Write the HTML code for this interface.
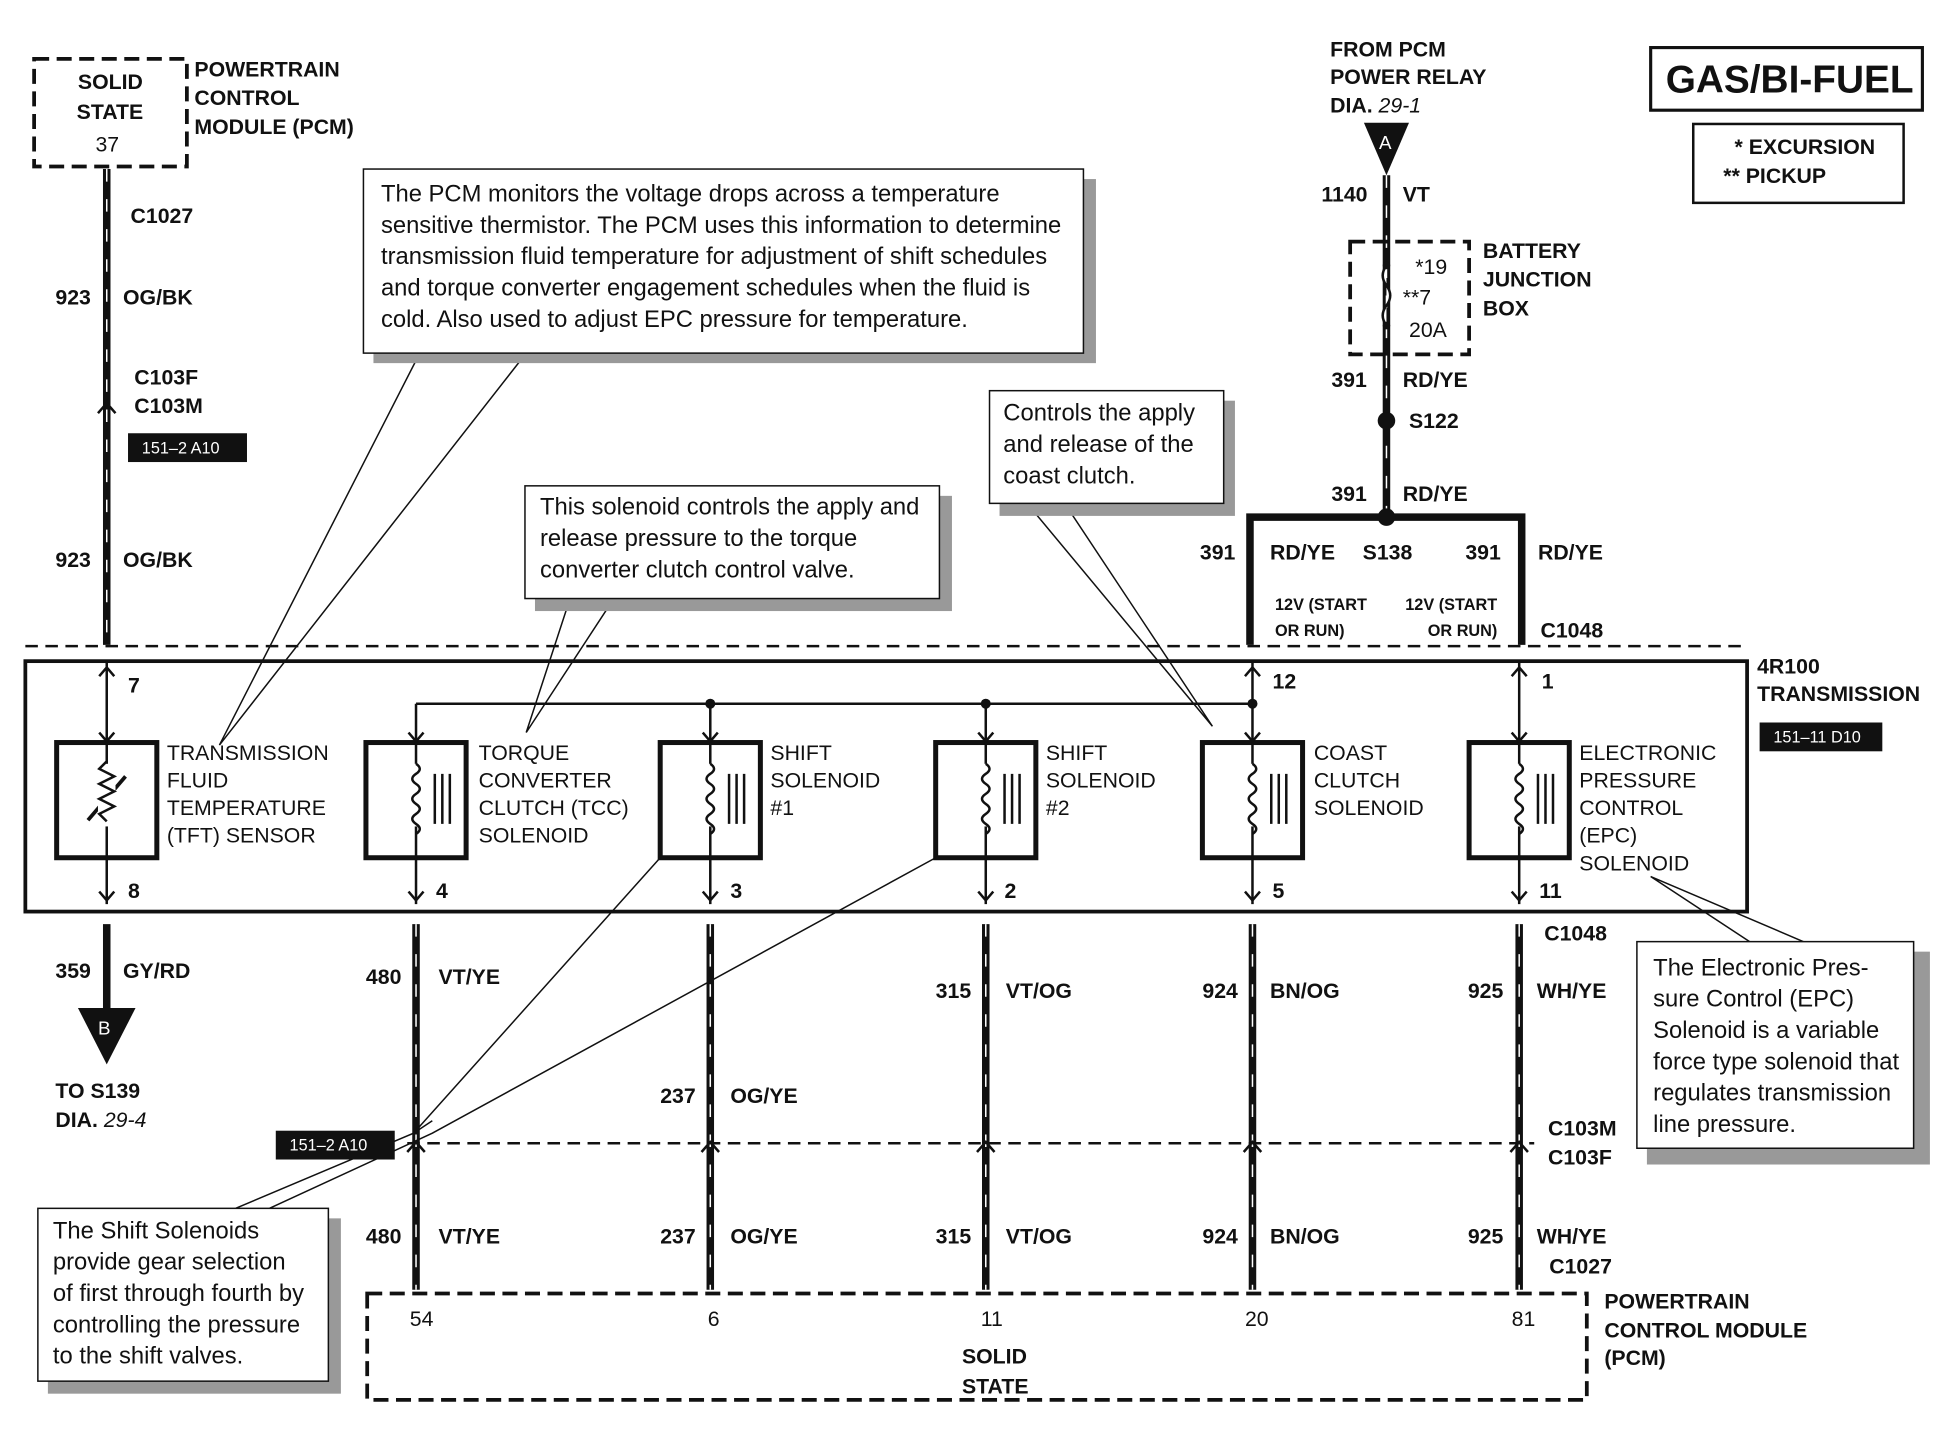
<!DOCTYPE html>
<html><head><meta charset="utf-8"><style>
html,body{margin:0;padding:0;background:#fff}
svg{display:block}
text{font-family:"Liberation Sans",Arial,sans-serif;fill:#111}
.b{font-weight:bold;font-size:17px}
.s{font-weight:bold;font-size:13px}
.c{font-size:19px}
.i{font-style:italic;font-weight:normal}
</style></head><body>
<svg width="1954" height="1440" viewBox="0 0 1560 1150" xmlns="http://www.w3.org/2000/svg">
<defs>
<g id="coil"><path d="M0,-28 q6,4 0,8 q-6,4 0,8 q6,4 0,8 q-6,4 0,8 q6,4 0,8 q-6,4 0,8 q6,4 0,8" fill="none" stroke="#111" stroke-width="2"/></g>
</defs>
<g fill="none" stroke="#111">
<!-- top-left PCM -->
<rect x="27" y="47" width="122" height="86" stroke-width="3" stroke-dasharray="12,6"/>
<!-- wires -->
<g stroke-width="6">
<line x1="85" y1="135" x2="85" y2="515"/>
<line x1="85" y1="738" x2="85" y2="805"/>
<line x1="332" y1="738" x2="332" y2="1030"/>
<line x1="567" y1="738" x2="567" y2="1030"/>
<line x1="787" y1="738" x2="787" y2="1030"/>
<line x1="1000" y1="738" x2="1000" y2="1030"/>
<line x1="1213" y1="738" x2="1213" y2="1030"/>
<line x1="1107" y1="140" x2="1107" y2="410"/>
<polyline points="998,515 998,413 1215,413 1215,515"/>
</g>
<g stroke="#fff" stroke-width="1.2" stroke-dasharray="10,14">
<line x1="85" y1="135" x2="85" y2="515"/><line x1="332" y1="738" x2="332" y2="1030"/><line x1="567" y1="738" x2="567" y2="1030"/><line x1="787" y1="738" x2="787" y2="1030"/><line x1="1000" y1="738" x2="1000" y2="1030"/><line x1="1213" y1="738" x2="1213" y2="1030"/><line x1="1107" y1="140" x2="1107" y2="410"/>
</g>
<!-- connector dashed lines -->
<line x1="20" y1="516" x2="1395" y2="516" stroke-width="2" stroke-dasharray="10,6"/>
<line x1="325" y1="913" x2="1225" y2="913" stroke-width="2" stroke-dasharray="10,6"/>
<!-- transmission box -->
<rect x="20" y="528" width="1375" height="200" stroke-width="3"/>
<line x1="332" y1="562" x2="1000" y2="562" stroke-width="2"/>
<!-- component boxes -->
<g stroke-width="4">
<rect x="45" y="593" width="80" height="92"/>
<rect x="292" y="593" width="80" height="92"/>
<rect x="527" y="593" width="80" height="92"/>
<rect x="747" y="593" width="80" height="92"/>
<rect x="960" y="593" width="80" height="92"/>
<rect x="1173" y="593" width="80" height="92"/>
</g>
<g stroke-width="2">
<line x1="85" y1="528" x2="85" y2="722"/>
<line x1="332" y1="562" x2="332" y2="722"/>
<line x1="567" y1="562" x2="567" y2="722"/>
<line x1="787" y1="562" x2="787" y2="722"/>
<line x1="1000" y1="528" x2="1000" y2="722"/>
<line x1="1213" y1="528" x2="1213" y2="722"/>
<line x1="70" y1="655" x2="100" y2="620" stroke-width="3"/>
</g>
<g fill="#fff"><rect x="78" y="610" width="14" height="50" stroke="none"/><rect x="325" y="610" width="14" height="50" stroke="none"/><rect x="560" y="610" width="14" height="50" stroke="none"/><rect x="780" y="610" width="14" height="50" stroke="none"/><rect x="993" y="610" width="14" height="50" stroke="none"/><rect x="1206" y="610" width="14" height="50" stroke="none"/></g>
<path d="M85,608 l-6,6 l12,6 l-12,6 l12,6 l-12,6 l12,6 l-12,6 l6,6" stroke-width="2"/>
<use href="#coil" x="332" y="638"/><use href="#coil" x="567" y="638"/><use href="#coil" x="787" y="638"/><use href="#coil" x="1000" y="638"/><use href="#coil" x="1213" y="638"/>
<g stroke-width="2">
<path d="M347,618v40M353,618v40M359,618v40"/><path d="M582,618v40M588,618v40M594,618v40"/><path d="M802,618v40M808,618v40M814,618v40"/><path d="M1015,618v40M1021,618v40M1027,618v40"/><path d="M1228,618v40M1234,618v40M1240,618v40"/>
</g>
<!-- pin arrows -->
<g stroke-width="2">
<path d="M79,540l6,-7 6,7M79,585l6,7 6,-7M79,712l6,7 6,-7"/>
<path d="M326,585l6,7 6,-7M326,712l6,7 6,-7M561,585l6,7 6,-7M561,712l6,7 6,-7M781,585l6,7 6,-7M781,712l6,7 6,-7M994,585l6,7 6,-7M994,712l6,7 6,-7M994,540l6,-7 6,7M1207,585l6,7 6,-7M1207,712l6,7 6,-7M1207,540l6,-7 6,7"/>
<path d="M78,330l7,-8 7,8M325,920l7,-8 7,8M560,920l7,-8 7,8M780,920l7,-8 7,8M993,920l7,-8 7,8M1206,920l7,-8 7,8"/>
</g>
<!-- bottom PCM -->
<rect x="293" y="1033" width="974" height="85" stroke-width="3" stroke-dasharray="12,6"/>
<!-- battery junction -->
<rect x="1078" y="193" width="95" height="90" stroke-width="3" stroke-dasharray="12,6"/>
<path d="M1107,212 q-6,8 0,16 q6,8 0,16 q-6,8 0,16" stroke-width="2" fill="#fff"/>
<!-- leaders -->
<g stroke-width="1.2">
<path d="M335,282 L175,595 L420,282"/>
<path d="M455,478 L420,585 L490,478"/>
<path d="M820,402 L968,580 L850,402"/>
<path d="M1397,752 L1318,700 L1440,752"/>
<path d="M188,965 L330,905 L527,685 M215,965 L345,905 L747,685 M330,905 L345,895"/>
</g>
<!-- callout shadows & boxes -->
<g fill="#999" stroke="none">
<rect x="298" y="143" width="577" height="147"/><rect x="427" y="396" width="333" height="92"/><rect x="798" y="320" width="188" height="92"/><rect x="1315" y="760" width="226" height="170"/><rect x="38" y="973" width="234" height="140"/>
</g>
<g fill="#fff" stroke-width="1.2">
<rect x="290" y="135" width="575" height="147"/><rect x="419" y="388" width="331" height="90"/><rect x="790" y="312" width="187" height="90"/><rect x="1307" y="752" width="221" height="165"/><rect x="30" y="965" width="232" height="138"/>
</g>
<rect x="1318" y="38" width="217" height="50" stroke-width="2.5"/>
<rect x="1352" y="99" width="168" height="63" stroke-width="2"/>
</g>
<!-- fills -->
<polygon points="1089,98 1125,98 1107,140" fill="#111"/>
<polygon points="62,805 108,805 85,850" fill="#111"/>
<circle cx="1107" cy="336" r="7" fill="#111"/><circle cx="1107" cy="413" r="7" fill="#111"/>
<circle cx="567" cy="562" r="4" fill="#111"/><circle cx="787" cy="562" r="4" fill="#111"/><circle cx="1000" cy="562" r="4" fill="#111"/>
<circle cx="1107" cy="212" r="3" fill="#111"/><circle cx="1107" cy="260" r="3" fill="#111"/>
<rect x="102" y="346" width="95" height="23" fill="#111"/><rect x="220" y="903" width="95" height="23" fill="#111"/><rect x="1405" y="577" width="98" height="23" fill="#111"/>
<!-- text -->
<text class="s" x="113" y="362" style="fill:#fff;font-weight:normal">151–2 A10</text>
<text class="s" x="231" y="919" style="fill:#fff;font-weight:normal">151–2 A10</text>
<text class="s" x="1416" y="593" style="fill:#fff;font-weight:normal">151–11 D10</text>
<text class="b" x="62" y="71">SOLID</text><text class="b" x="61" y="95">STATE</text><text class="b" x="76" y="121" style="font-weight:normal">37</text>
<text class="b" x="155" y="61">POWERTRAIN</text><text class="b" x="155" y="84">CONTROL</text><text class="b" x="155" y="107">MODULE (PCM)</text>
<text class="b" x="104" y="178">C1027</text>
<text class="b" x="44" y="243">923</text><text class="b" x="98" y="243">OG/BK</text>
<text class="b" x="107" y="307">C103F</text><text class="b" x="107" y="330">C103M</text>
<text class="b" x="44" y="453">923</text><text class="b" x="98" y="453">OG/BK</text>
<text class="b" x="102" y="553">7</text><text class="b" x="102" y="717">8</text>
<text class="b" x="348" y="717">4</text><text class="b" x="583" y="717">3</text><text class="b" x="802" y="717">2</text><text class="b" x="1016" y="717">5</text><text class="b" x="1016" y="550">12</text><text class="b" x="1231" y="550">1</text><text class="b" x="1229" y="717">11</text>
<g class="b" style="font-weight:normal;font-size:17px">
<text x="133" y="607">TRANSMISSION</text><text x="133" y="629">FLUID</text><text x="133" y="651">TEMPERATURE</text><text x="133" y="673">(TFT) SENSOR</text>
<text x="382" y="607">TORQUE</text><text x="382" y="629">CONVERTER</text><text x="382" y="651">CLUTCH (TCC)</text><text x="382" y="673">SOLENOID</text>
<text x="615" y="607">SHIFT</text><text x="615" y="629">SOLENOID</text><text x="615" y="651">#1</text>
<text x="835" y="607">SHIFT</text><text x="835" y="629">SOLENOID</text><text x="835" y="651">#2</text>
<text x="1049" y="607">COAST</text><text x="1049" y="629">CLUTCH</text><text x="1049" y="651">SOLENOID</text>
<text x="1261" y="607">ELECTRONIC</text><text x="1261" y="629">PRESSURE</text><text x="1261" y="651">CONTROL</text><text x="1261" y="673">(EPC)</text><text x="1261" y="695">SOLENOID</text>
</g>
<text class="b" x="1403" y="538">4R100</text><text class="b" x="1403" y="560">TRANSMISSION</text>
<text class="b" x="44" y="781">359</text><text class="b" x="98" y="781">GY/RD</text>
<text x="78" y="826" style="fill:#fff;font-size:15px">B</text>
<text class="b" x="44" y="877">TO S139</text><text class="b" x="44" y="900">DIA. <tspan class="i">29-4</tspan></text>
<text class="b" x="292" y="786">480</text><text class="b" x="350" y="786">VT/YE</text>
<text class="b" x="747" y="797">315</text><text class="b" x="803" y="797">VT/OG</text>
<text class="b" x="960" y="797">924</text><text class="b" x="1014" y="797">BN/OG</text>
<text class="b" x="1172" y="797">925</text><text class="b" x="1227" y="797">WH/YE</text>
<text class="b" x="527" y="881">237</text><text class="b" x="583" y="881">OG/YE</text>
<text class="b" x="1233" y="751">C1048</text>
<text class="b" x="1236" y="907">C103M</text><text class="b" x="1236" y="930">C103F</text>
<text class="b" x="292" y="993">480</text><text class="b" x="350" y="993">VT/YE</text>
<text class="b" x="527" y="993">237</text><text class="b" x="583" y="993">OG/YE</text>
<text class="b" x="747" y="993">315</text><text class="b" x="803" y="993">VT/OG</text>
<text class="b" x="960" y="993">924</text><text class="b" x="1014" y="993">BN/OG</text>
<text class="b" x="1172" y="993">925</text><text class="b" x="1227" y="993">WH/YE</text>
<text class="b" x="1237" y="1017">C1027</text>
<g class="b" style="font-weight:normal"><text x="327" y="1059">54</text><text x="565" y="1059">6</text><text x="783" y="1059">11</text><text x="994" y="1059">20</text><text x="1207" y="1059">81</text></g>
<text class="b" x="768" y="1089">SOLID</text><text class="b" x="768" y="1113">STATE</text>
<text class="b" x="1281" y="1045">POWERTRAIN</text><text class="b" x="1281" y="1068">CONTROL MODULE</text><text class="b" x="1281" y="1090">(PCM)</text>
<text class="b" x="1062" y="45">FROM PCM</text><text class="b" x="1062" y="67">POWER RELAY</text><text class="b" x="1062" y="90">DIA. <tspan class="i">29-1</tspan></text>
<text x="1101" y="119" style="fill:#fff;font-size:15px">A</text>
<text class="b" x="1055" y="161">1140</text><text class="b" x="1120" y="161">VT</text>
<g class="b" style="font-weight:normal"><text x="1130" y="219">*19</text><text x="1120" y="243">**7</text><text x="1125" y="269">20A</text></g>
<text class="b" x="1184" y="206">BATTERY</text><text class="b" x="1184" y="229">JUNCTION</text><text class="b" x="1184" y="252">BOX</text>
<text class="b" x="1063" y="309">391</text><text class="b" x="1120" y="309">RD/YE</text>
<text class="b" x="1125" y="342">S122</text>
<text class="b" x="1063" y="400">391</text><text class="b" x="1120" y="400">RD/YE</text>
<text class="b" x="958" y="447">391</text><text class="b" x="1014" y="447">RD/YE</text><text class="b" x="1088" y="447">S138</text><text class="b" x="1170" y="447">391</text><text class="b" x="1228" y="447">RD/YE</text>
<text class="s" x="1018" y="487">12V (START</text><text class="s" x="1018" y="508">OR RUN)</text>
<text class="s" x="1122" y="487">12V (START</text><text class="s" x="1140" y="508">OR RUN)</text>
<text class="b" x="1230" y="509">C1048</text>
<text x="1330" y="74" style="font-weight:bold;font-size:31px">GAS/BI-FUEL</text>
<text class="b" x="1385" y="123">* EXCURSION</text><text class="b" x="1376" y="146">** PICKUP</text>
<g class="c">
<text x="304" y="161">The PCM monitors the voltage drops across a temperature</text>
<text x="304" y="186">sensitive thermistor. The PCM uses this information to determine</text>
<text x="304" y="211">transmission fluid temperature for adjustment of shift schedules</text>
<text x="304" y="236">and torque converter engagement schedules when the fluid is</text>
<text x="304" y="261">cold. Also used to adjust EPC pressure for temperature.</text>
<text x="431" y="411">This solenoid controls the apply and</text>
<text x="431" y="436">release pressure to the torque</text>
<text x="431" y="461">converter clutch control valve.</text>
<text x="801" y="336">Controls the apply</text><text x="801" y="361">and release of the</text><text x="801" y="386">coast clutch.</text>
<text x="1320" y="779">The Electronic Pres-</text><text x="1320" y="804">sure Control (EPC)</text><text x="1320" y="829">Solenoid is a variable</text><text x="1320" y="854">force type solenoid that</text><text x="1320" y="879">regulates transmission</text><text x="1320" y="904">line pressure.</text>
<text x="42" y="989">The Shift Solenoids</text><text x="42" y="1014">provide gear selection</text><text x="42" y="1039">of first through fourth by</text><text x="42" y="1064">controlling the pressure</text><text x="42" y="1089">to the shift valves.</text>
</g>
</svg>
</body></html>
